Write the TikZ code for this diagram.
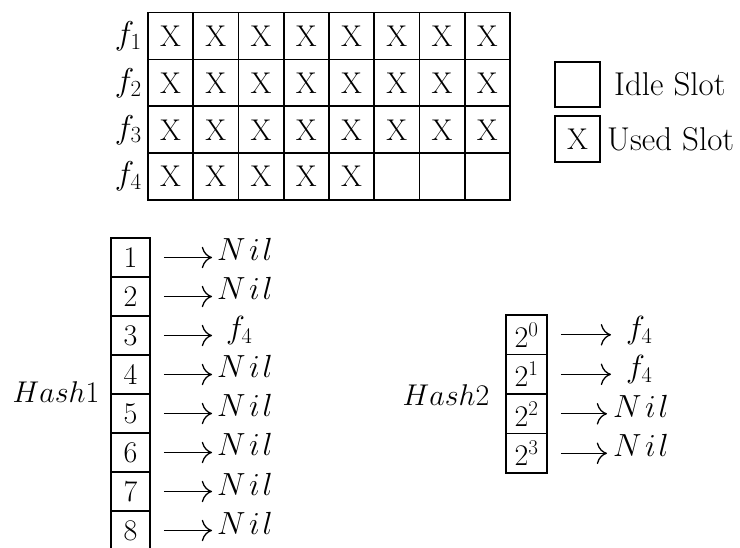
\documentclass[tikz,border=0pt]{standalone}
\usepackage{fix-cm}
\usetikzlibrary{arrows.meta}
\begin{document}
\begin{tikzpicture}[x=1pt,y=-1pt,
  every node/.style={font=\fontsize{33}{40}\selectfont, inner sep=0pt},
  hashlab/.style={font=\fontsize{30}{36}\selectfont},
  xf/.style={font=\fontsize{30}{36}\selectfont},
  mathlab/.style={font=\fontsize{32}{38}\selectfont},
  cell/.style={draw, line width=1.6pt, minimum width=45.25pt, minimum height=47pt, xf},
  hbox/.style={draw, line width=1.6pt, minimum width=39pt, minimum height=39pt, font=\fontsize{30}{36}\selectfont},
  hboxb/.style={draw, line width=1.6pt, minimum width=41pt, minimum height=39.5pt, font=\fontsize{30}{36}\selectfont},
  lab/.style={anchor=west, text width=56pt, text height=0.7em, text depth=0pt, mathlab},
  nil/.style={lab, align=left},
  fl/.style={lab, align=center},
  arr/.style={line width=1.3pt, -{To[scale=2.3]}, shorten <=13pt}
]
\useasboundingbox (0,0) rectangle (740,548);
% grid
\foreach \r in {1,...,4} {
  \node[anchor=east] (f\r) at (142, {36.2+46.8*(\r-1)}) {$f_{\r}$};
}
\foreach \r in {1,2,3} {
  \foreach \c in {1,...,8} {
    \node[cell] (g\r\c) at ({148+45.25*(\c-0.5)}, {36.2+46.8*(\r-1)}) {X};
  }
}
\foreach \c in {1,...,5} {
  \node[cell] (g4\c) at ({148+45.25*(\c-0.5)}, {36.2+46.8*3}) {X};
}
\foreach \c in {6,7,8} {
  \node[cell] (g4\c) at ({148+45.25*(\c-0.5)}, {36.2+46.8*3}) {};
}
% legend
\node[draw, line width=1.6pt, minimum width=45pt, minimum height=45pt] (idle) at (577.5,84.5) {};
\node[anchor=west] (idlet) at (614,84.5) {Idle Slot};
\node[draw, line width=1.6pt, minimum width=45pt, minimum height=46pt, xf] (used) at (577.5,139) {X};
\node[anchor=west] (usedt) at (607,139) {Used Slot};
% Hash1
\node[hashlab] (h1) at (56,392) {$Hash1$};
\foreach \i in {1,...,8} {
  \node[hbox] (a\i) at (130.5, {257.5+39*(\i-1)}) {\i};
}
\foreach \i in {1,2,4,5,6,7,8} {
  \node[nil] (na\i) at (217, {257.5+39*(\i-1)}) {$N\mkern2mu i\mkern1.5mu l$};
}
\node[fl, text width=44pt] (na3) at (217, {257.5+39*2}) {$f_4$};
\foreach \i in {1,...,8} {
  \draw[arr, shorten >=5pt] (a\i.east) -- (na\i.west);
}
% Hash2
\node[hashlab] (h2) at (446,395) {$Hash2$};
\node[hboxb] (b0) at (526.5,334.8) {$2^0$};
\node[hboxb] (b1) at (526.5,374.3) {$2^1$};
\node[hboxb] (b2) at (526.5,413.8) {$2^2$};
\node[hboxb] (b3) at (526.5,453.3) {$2^3$};
\node[fl, text width=56pt] (nb0) at (611,334.8) {$f_4$};
\node[fl, text width=56pt] (nb1) at (611,374.3) {$f_4$};
\node[nil] (nb2) at (613,413.8) {$N\mkern2mu i\mkern1.5mu l$};
\node[nil] (nb3) at (613,453.3) {$N\mkern2mu i\mkern1.5mu l$};
\draw[arr] (b0.east) -- (nb0.west);
\draw[arr] (b1.east) -- (nb1.west);
\draw[arr, shorten >=6pt] (b2.east) -- (nb2.west);
\draw[arr, shorten >=6pt] (b3.east) -- (nb3.west);
\end{tikzpicture}
\end{document}
